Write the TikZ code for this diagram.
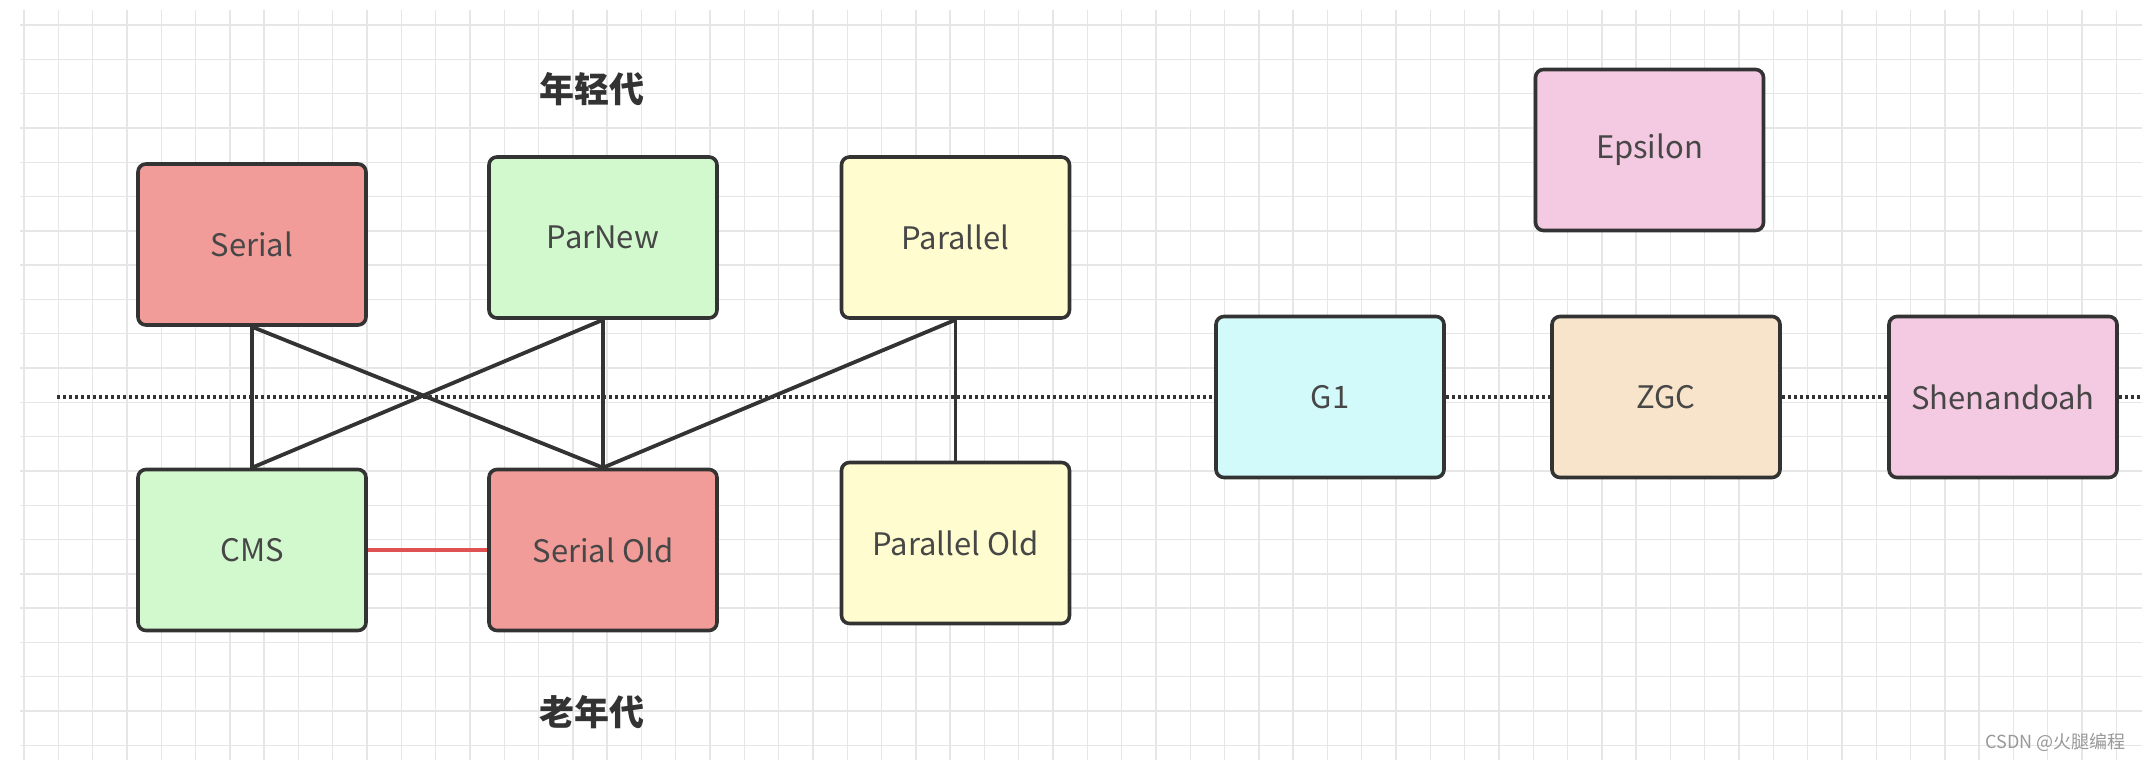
\documentclass[tikz,border=0pt]{standalone}
\usepackage{fontspec}
\setmainfont{Noto Sans CJK SC}
\usetikzlibrary{backgrounds}
\definecolor{edge}{HTML}{333333}
\definecolor{gridc}{HTML}{E6E6E6}
\definecolor{redf}{HTML}{F19C99}
\definecolor{greenf}{HTML}{D2F8CE}
\definecolor{yellowf}{HTML}{FFFDD0}
\definecolor{pinkf}{HTML}{F4C9E2}
\definecolor{cyanf}{HTML}{D2FAFA}
\definecolor{orangef}{HTML}{F8E4CB}
\definecolor{redline}{HTML}{E05252}
\tikzset{
  gcbox/.style={draw=edge, line width=1.8pt, rounded corners=4pt,
    minimum width=114pt, minimum height=80.5pt, inner sep=0pt,
    text=edge!90, font=\fontsize{15.5}{17}\selectfont},
  link/.style={draw=edge, line width=1.9pt},
  dotline/.style={draw=edge, line width=2pt, dash pattern=on 1.5pt off 1.5pt},
  title/.style={text=edge, font=\fontsize{17.5}{19}\selectfont\bfseries},
  gridline/.style={draw=gridc, line width=0.7pt}
}
\begin{document}
\begin{tikzpicture}[x=0.5pt, y=-0.5pt]
\useasboundingbox (0,0) rectangle (2142,760);

% labels
\node[title] (young) at (592,89) {年轻代};
\node[title] (old) at (592,712) {老年代};

% boxes
\node[gcbox, fill=redf] (serial) at (252,244.5) {Serial};
\node[gcbox, fill=greenf] (parnew) at (603,237.5) {ParNew};
\node[gcbox, fill=yellowf] (parallel) at (955.5,237.5) {Parallel};
\node[gcbox, fill=pinkf] (epsilon) at (1649.5,150) {Epsilon};
\node[gcbox, fill=greenf] (cms) at (252,550) {CMS};
\node[gcbox, fill=redf] (serialold) at (603,550) {Serial Old};
\node[gcbox, fill=yellowf] (parallelold) at (955.5,543) {Parallel Old};
\node[gcbox, fill=cyanf] (g1) at (1330,397) {G1};
\node[gcbox, fill=orangef] (zgc) at (1666,397) {ZGC};
\node[gcbox, fill=pinkf] (shen) at (2003,397) {Shenandoah};

% watermark
\node[anchor=east, text=gray!80, font=\fontsize{9}{10}\selectfont, inner sep=0pt] (mark) at (2126,742) {CSDN @火腿编程};

\begin{scope}[on background layer]
\coordinate (dl) at (57,397);
\coordinate (dr) at (2142,397);
\fill[white] (0,0) rectangle (2142,760);
\foreach \i in {0,...,62} {\draw[gridline] (24+34.3*\i,10) -- (24+34.3*\i,760);}
\foreach \j in {0,...,21} {\draw[gridline] (20,25+34.3*\j) -- (2142,25+34.3*\j);}
\draw[dotline] (dl) -- (g1.west);
\draw[dotline] (g1.east) -- (zgc.west);
\draw[dotline] (zgc.east) -- (shen.west);
\draw[dotline] (shen.east) -- (dr);
\draw[link] (serial.south) -- (cms.north);
\draw[link] (serial.south) -- (serialold.north);
\draw[link] (parnew.south) -- (cms.north);
\draw[link] (parnew.south) -- (serialold.north);
\draw[link] (parallel.south) -- (serialold.north);
\draw[link] (parallel.south) -- (parallelold.north);
\draw[draw=redline, line width=1.8pt] (cms.east) -- (serialold.west);
\end{scope}
\end{tikzpicture}
\end{document}
